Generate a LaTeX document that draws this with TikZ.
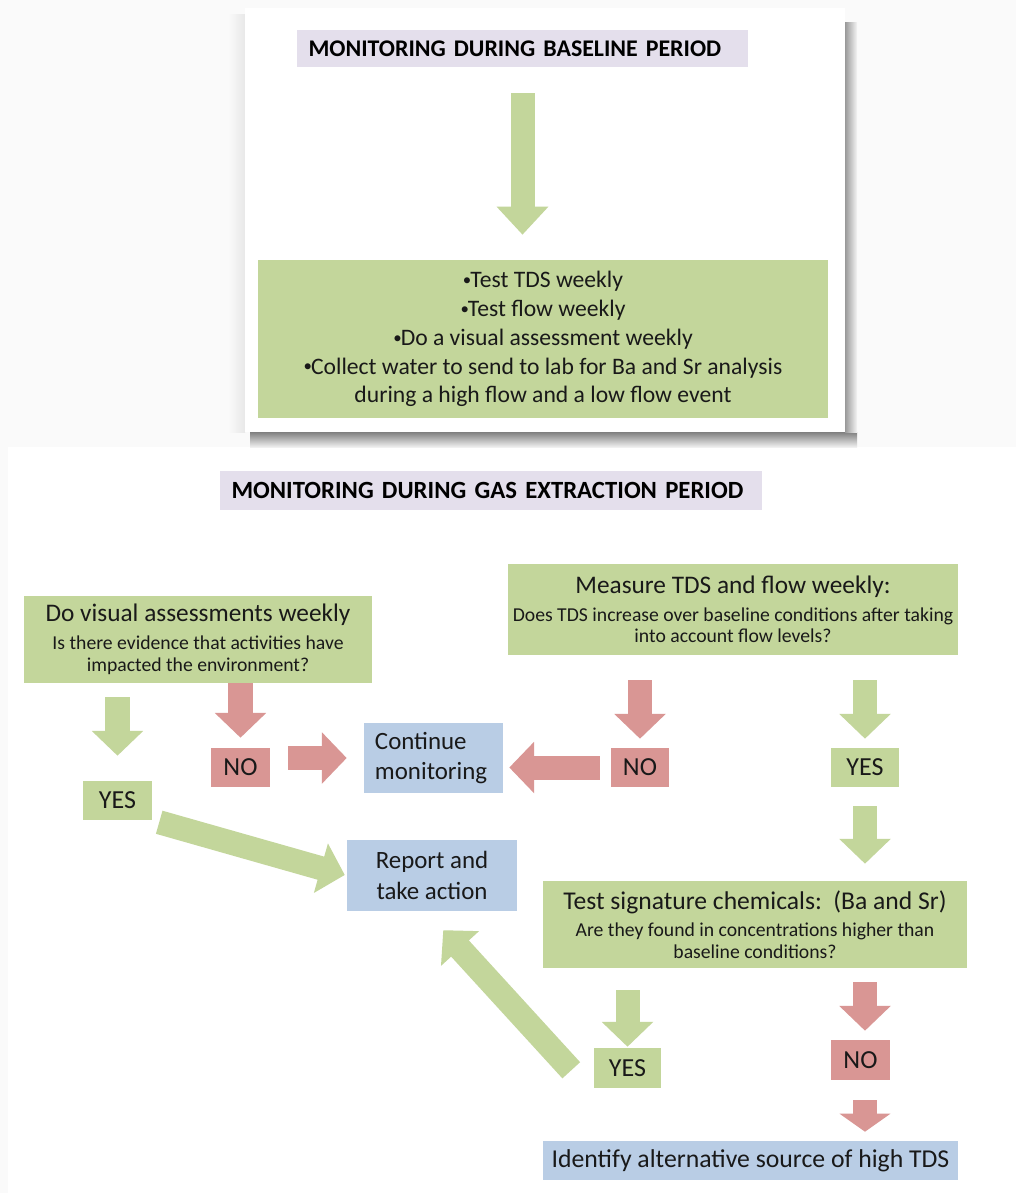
\documentclass[tikz,border=0pt]{standalone}
\usepackage{fontspec}
\setmainfont{Carlito}
\usetikzlibrary{arrows.meta}

\definecolor{boxgreen}{HTML}{C3D69B}
\definecolor{boxred}{HTML}{D99694}
\definecolor{boxblue}{HTML}{B9CDE5}
\definecolor{boxlilac}{HTML}{E4DFEC}

\newcommand{\dotitem}{{\fontsize{12}{12}\selectfont\raisebox{0.12em}{•}}\kern-0.04em}

\begin{document}
\begin{tikzpicture}[x=0.025cm,y=-0.025cm,
        box/.style={inner sep=0pt, align=center, text=black!90},
        greenbox/.style={box, fill=boxgreen},
        redbox/.style={box, fill=boxred, font=\fontsize{18.5}{22}\selectfont},
        bluebox/.style={box, fill=boxblue, font=\fontsize{17.7}{21.5}\selectfont},
        answer/.style={greenbox, font=\fontsize{18.5}{22}\selectfont},
        titlebox/.style={fill=boxlilac, inner xsep=0.29cm, inner ysep=0pt, align=left,
            font=\bfseries\fontsize{17}{20}\selectfont},
        question/.style={greenbox, font=\fontsize{14}{15.6}\selectfont},
        garrow/.style={draw=boxgreen, line width=0.6cm, -{Triangle[length=#1,width=1.25cm]}},
        garrow/.default=0.62cm,
        rarrow/.style={draw=boxred, line width=0.6cm, -{Triangle[length=#1,width=1.25cm]}},
        rarrow/.default=0.62cm
    ]
    %page and the two cards
    \fill[black!2] (0,0) rectangle (1016,1193);
    \shade[left color=black!2, right color=black!9] (228,14) rectangle (245,432);
    \fill[white] (8,447) rectangle (1016,1193);
    \shade[top color=black!50, bottom color=black!6] (250,432) rectangle (857,447);
    \shade[left color=black!40, right color=black!4] (845,22) rectangle (857,432);
    \fill[white] (245,8) rectangle (845,432);

    %baseline period
    \node[titlebox, minimum width=11.275cm, text width=10.695cm, minimum height=0.925cm] (basetitle) at (522.5,48.5) {MONITORING DURING BASELINE PERIOD};
    \node[greenbox, minimum width=14.25cm, minimum height=3.95cm, font=\fontsize{16.8}{20.5}\selectfont] (tests) at (543,339)
        {\dotitem Test TDS weekly\\ \dotitem Test flow weekly\\ \dotitem Do a visual assessment weekly\\
         \dotitem Collect water to send to lab for Ba and Sr analysis\\ during a high flow and a low flow event};

    %gas extraction period
    \node[titlebox, minimum width=13.55cm, text width=12.97cm, minimum height=0.975cm, font=\bfseries\fontsize{17.6}{20}\selectfont] (gastitle) at (491,490.5) {MONITORING DURING GAS EXTRACTION PERIOD};
    \node[question, minimum width=8.7cm, minimum height=2.175cm] (visual) at (198,639.5)
        {{\fontsize{18}{22}\selectfont Do visual assessments weekly}\\[4pt] Is there evidence that activities have\\ impacted the environment?};
    \node[question, minimum width=11.25cm, minimum height=2.275cm] (measure) at (733,609.5)
        {{\fontsize{18}{22}\selectfont Measure TDS and flow weekly:}\\[4pt] Does TDS increase over baseline conditions after taking\\ into account flow levels?};
    \node[question, minimum width=10.6cm, minimum height=2.175cm] (sig) at (755,924.5)
        {{\fontsize{18.2}{22}\selectfont Test signature chemicals:\ \ (Ba and Sr)}\\[4pt] Are they found in concentrations higher than\\ baseline conditions?};

    \node[answer, minimum width=1.725cm, minimum height=0.975cm] (yesA) at (117.5,800.5) {YES};
    \node[redbox, minimum width=1.475cm, minimum height=0.975cm] (noA) at (240.5,767.5) {NO};
    \node[redbox, minimum width=1.45cm, minimum height=0.975cm] (noB) at (640,767.5) {NO};
    \node[answer, minimum width=1.7cm, minimum height=0.975cm] (yesB) at (865,767.5) {YES};
    \node[answer, minimum width=1.675cm, minimum height=1cm] (yesC) at (627.5,1068) {YES};
    \node[redbox, minimum width=1.475cm, minimum height=1cm] (noC) at (860.5,1060) {NO};

    \node[bluebox, minimum width=3.475cm, minimum height=1.75cm, inner xsep=0.275cm, text width=2.925cm, align=left] (cont) at (433.5,758) {Continue\\ monitoring};
    \node[bluebox, minimum width=4.25cm, minimum height=1.775cm] (report) at (432,875.5) {Report and\\ take action};
    \node[bluebox, minimum width=10.375cm, minimum height=0.975cm, font=\fontsize{18.3}{22}\selectfont] (ident) at (750.5,1160.5) {Identify alternative source of high TDS};

    %arrows
    \draw[garrow=0.7cm, shorten <=0.65cm, shorten >=0.625cm] (basetitle.south) -- (basetitle.south |- tests.north);
    \draw[garrow, shorten <=0.35cm, shorten >=0.625cm] (yesA.north |- visual.south) -- (yesA.north);
    \draw[rarrow, shorten >=0.25cm] (noA.north |- visual.south) -- (noA.north);
    \draw[rarrow, shorten <=0.45cm, shorten >=0.425cm] (noA.east |- cont) -- (cont.west);
    \draw[rarrow, shorten <=0.625cm, shorten >=0.225cm] (noB.north |- measure.south) -- (noB.north);
    \draw[rarrow, shorten <=0.275cm, shorten >=0.15cm] (noB.west) -- (noB.west -| cont.east);
    \draw[garrow, shorten <=0.625cm, shorten >=0.225cm] (yesB.north |- measure.south) -- (yesB.north);
    \draw[garrow, shorten <=0.475cm, shorten >=0.425cm] (yesB.south) -- (yesB.south |- sig.north);
    \draw[garrow, shorten <=0.18cm, shorten >=0.05cm] (yesA.south east) -- (report.west);
    \draw[garrow, shorten <=0.55cm, shorten >=0.025cm] (yesC.north |- sig.south) -- (yesC.north);
    \draw[garrow, shorten <=0.61cm, shorten >=0.64cm] ([xshift=-0.15cm]yesC.south west) -- ([xshift=-0.15cm]report.south);
    \draw[rarrow, shorten <=0.35cm, shorten >=0.225cm] (yesB.south |- sig.south) -- (yesB.south |- noC.north);
    \draw[rarrow=0.45cm, shorten <=0.5cm, shorten >=0.225cm] (yesB.south |- noC.south) -- (yesB.south |- ident.north);
\end{tikzpicture}
\end{document}
